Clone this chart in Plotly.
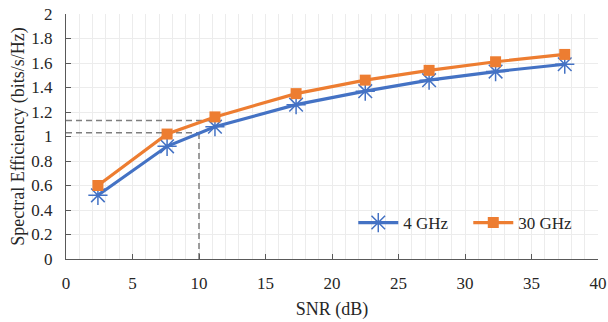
import plotly.graph_objects as go

snr_db = [2.4, 7.6, 11.2, 17.3, 22.5, 27.3, 32.3, 37.5]
se_4ghz = [0.52, 0.92, 1.08, 1.26, 1.37, 1.46, 1.53, 1.59]
se_30ghz = [0.60, 1.02, 1.16, 1.35, 1.46, 1.54, 1.61, 1.67]
series_names = ["4 GHz", "30 GHz"]

# reference guide lines (dashed)
guide_snr = 10
guide_se_low = 1.03
guide_se_high = 1.13
guide_high_end = 11.0

x_ticks = [0, 5, 10, 15, 20, 25, 30, 35, 40]
y_ticks = [0, 0.2, 0.4, 0.6, 0.8, 1, 1.2, 1.4, 1.6, 1.8, 2]

blue = "#4472C4"
orange = "#ED7D31"
font_family = "Liberation Serif"
tick_size = 17
title_size = 18

fig = go.Figure()

dash_style = dict(color="#7f7f7f", width=1.5, dash="6px,4px")
fig.add_trace(go.Scatter(x=[0, guide_high_end], y=[guide_se_high, guide_se_high],
                         mode="lines", line=dash_style, showlegend=False, hoverinfo="skip"))
fig.add_trace(go.Scatter(x=[0, guide_snr], y=[guide_se_low, guide_se_low],
                         mode="lines", line=dash_style, showlegend=False, hoverinfo="skip"))
fig.add_trace(go.Scatter(x=[guide_snr, guide_snr], y=[0, guide_se_low],
                         mode="lines", line=dash_style, showlegend=False, hoverinfo="skip"))

fig.add_trace(go.Scatter(
    x=snr_db, y=se_4ghz, name=series_names[0], mode="lines+markers",
    line=dict(color=blue, width=3.2),
    marker=dict(symbol="asterisk-open", size=16, line=dict(color=blue, width=1.5)),
))
fig.add_trace(go.Scatter(
    x=snr_db, y=se_30ghz, name=series_names[1], mode="lines+markers",
    line=dict(color=orange, width=3.2),
    marker=dict(symbol="square", size=11, color=orange),
))

axis_common = dict(
    showline=True, linecolor="#595959", linewidth=1.2,
    ticks="inside", ticklen=5, tickcolor="#595959", tickwidth=1,
    gridcolor="#ececec", gridwidth=1, zeroline=False, automargin=False,
    ticklabeloverflow="allow",
    tickfont=dict(family=font_family, size=tick_size, color="#262626"),
    title_font=dict(family=font_family, size=title_size, color="#262626"),
)

fig.update_xaxes(
    range=[0, 40], tickvals=x_ticks, ticktext=[str(v) for v in x_ticks],
    title_text="SNR (dB)", title_standoff=10, ticklabelstandoff=8,
    minor=dict(dtick=1, showgrid=True, gridcolor="#ececec", gridwidth=1),
    **axis_common,
)
fig.update_yaxes(
    range=[0, 2], tickvals=y_ticks, ticktext=[f"{v:g}" for v in y_ticks],
    title_text="Spectral Efficiency (bits/s/Hz)", title_standoff=1, ticklabelstandoff=9,
    **axis_common,
)

fig.update_layout(
    width=608, height=322,
    margin=dict(l=66, r=10, t=14, b=63),
    paper_bgcolor="white", plot_bgcolor="white",
    font=dict(family=font_family, size=tick_size, color="#262626"),
    legend=dict(orientation="h", x=0.54, y=0.147, xanchor="left", yanchor="middle",
                bgcolor="rgba(0,0,0,0)", font=dict(family=font_family, size=tick_size),
                itemwidth=40, entrywidth=60),
    showlegend=True,
)

# remove the default 8px body margin so the figure fills the window exactly
fig.write_html(
    "out.html",
    config={"displayModeBar": False},
    post_script="document.body.style.margin='0';document.body.style.overflow='hidden';",
)
